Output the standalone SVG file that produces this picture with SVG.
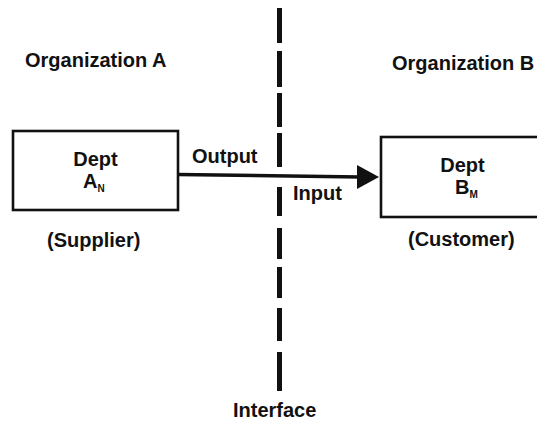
<svg xmlns="http://www.w3.org/2000/svg" width="537" height="421" viewBox="0 0 537 421">
  <defs>
    <style>
      .lbl { font-family: "Liberation Sans", Arial, Helvetica, sans-serif; font-weight: bold; font-size: 20px; fill: #111; }
      .sub { font-size: 10px; }
      .box { fill: none; stroke: #111; stroke-width: 2.6; }
      .dash { stroke: #111; stroke-width: 5; stroke-linecap: butt; }
    </style>
  </defs>

  <rect width="537" height="421" fill="#fff"/>

  <!-- organisation headings -->
  <text class="lbl" x="25" y="67">Organization A</text>
  <text class="lbl" x="392" y="70">Organization B</text>

  <!-- dashed interface boundary -->
  <g id="interface">
    <line class="dash" x1="279.5" y1="8" x2="279.5" y2="43"/>
    <line class="dash" x1="279.5" y1="51" x2="279.5" y2="87"/>
    <line class="dash" x1="279.5" y1="93" x2="279.5" y2="127"/>
    <line class="dash" x1="279.5" y1="133" x2="279.5" y2="167"/>
    <line class="dash" x1="279.5" y1="187" x2="279.5" y2="216"/>
    <line class="dash" x1="279.5" y1="228" x2="279.5" y2="259"/>
    <line class="dash" x1="279.5" y1="267" x2="279.5" y2="298"/>
    <line class="dash" x1="279.5" y1="308" x2="279.5" y2="341"/>
    <line class="dash" x1="279.5" y1="352" x2="279.5" y2="391"/>
    <text class="lbl" x="233" y="417">Interface</text>
  </g>

  <!-- supplier department -->
  <g id="node-dept-a">
    <rect class="box" x="13" y="131" width="165" height="79"/>
    <text class="lbl" x="95.5" y="166" text-anchor="middle">Dept</text>
    <text class="lbl" x="83" y="188">A<tspan class="sub" dy="4">N</tspan></text>
    <text class="lbl" x="47" y="247">(Supplier)</text>
  </g>

  <!-- customer department -->
  <g id="node-dept-b">
    <rect class="box" x="381" y="137" width="170" height="80"/>
    <text class="lbl" x="462.5" y="172" text-anchor="middle">Dept</text>
    <text class="lbl" x="455" y="194">B<tspan class="sub" dy="4">M</tspan></text>
    <text class="lbl" x="408" y="246">(Customer)</text>
  </g>

  <!-- output / input flow -->
  <g id="connectors">
    <path d="M178,174.5 L360,177" stroke="#111" stroke-width="3.5" fill="none"/>
    <polygon points="357,165 379,177 357,189" fill="#111"/>
    <text class="lbl" x="192" y="163">Output</text>
    <text class="lbl" x="293" y="200">Input</text>
  </g>
</svg>
